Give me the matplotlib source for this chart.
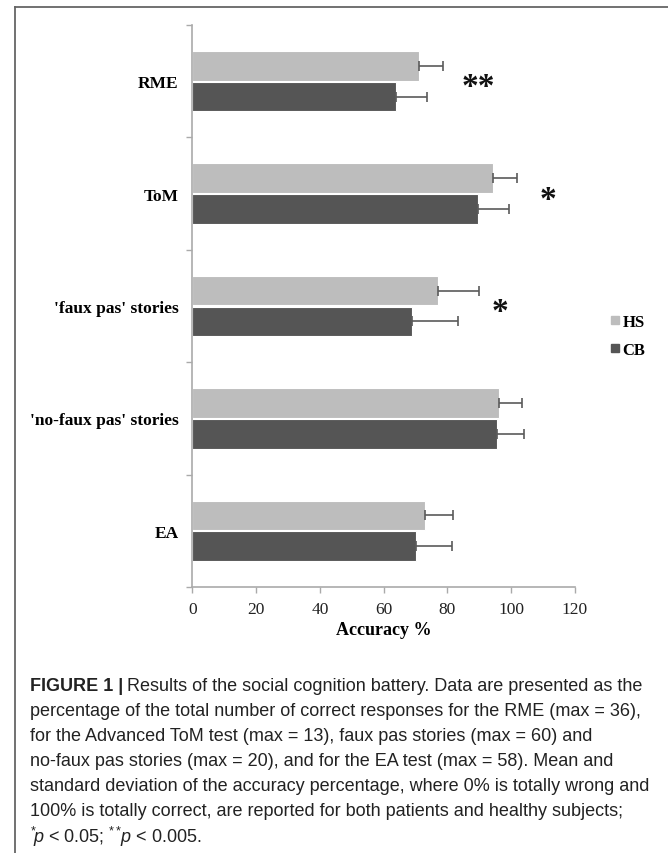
import matplotlib
matplotlib.use("Agg")
import matplotlib.pyplot as plt
from matplotlib.lines import Line2D
import numpy as np

categories = ["RME", "ToM", "'faux pas' stories", "'no-faux pas' stories", "EA"]
hs_mean = [71.1, 94.4, 77.1, 96.2, 72.9]
hs_sd = [7.6, 7.3, 12.8, 7.1, 8.9]
cb_mean = [63.8, 89.7, 68.8, 95.4, 70.3]
cb_sd = [9.7, 9.7, 14.6, 8.7, 11.2]
stars = ["**", "*", "*", "", ""]
star_x = [89.6, 111.5, 96.4, 0, 0]

caption = [
    "percentage of the total number of correct responses for the RME (max = 36),",
    "for the Advanced ToM test (max = 13), faux pas stories (max = 60) and",
    "no-faux pas stories (max = 20), and for the EA test (max = 58). Mean and",
    "standard deviation of the accuracy percentage, where 0% is totally wrong and",
    "100% is totally correct, are reported for both patients and healthy subjects;",
]

serif = "Liberation Serif"
sans = "Liberation Sans"
plt.rcParams["mathtext.fontset"] = "custom"
plt.rcParams["mathtext.it"] = "Liberation Sans:italic"
plt.rcParams["mathtext.rm"] = "Liberation Sans"

W, H = 668, 854
fig = plt.figure(figsize=(W / 100, H / 100), dpi=100)
ax = fig.add_axes([192.3 / W, 1 - 588 / H, (575 - 192.3) / W, (588 - 26) / H])

n = len(categories)
centers = np.arange(n)[::-1] + 0.5
bh = 0.265
err_kw = dict(ecolor="#5a5a5a", elinewidth=1.2, capsize=3.5, capthick=1.2)
ax.barh(centers + 0.137, hs_mean, height=bh, color="#bdbdbd", edgecolor="white",
        linewidth=0.8, xerr=[np.zeros(n), hs_sd], error_kw=err_kw, label="HS", zorder=2)
ax.barh(centers - 0.137, cb_mean, height=bh, color="#555555", edgecolor="white",
        linewidth=0.8, xerr=[np.zeros(n), cb_sd], error_kw=err_kw, label="CB", zorder=2)

for c, s, x in zip(centers, stars, star_x):
    if s:
        ax.text(x, c - 0.05, s, ha="center", va="center", fontsize=24,
                family=serif, fontweight="bold", color="#111111")

ax.set_xlim(0, 120)
ax.set_ylim(0, n)
ax.set_xticks(np.arange(0, 121, 20))
ax.set_yticks(np.arange(0, n + 1))
ax.set_yticklabels([])
ax.set_yticks(centers, minor=True)
ax.set_yticklabels(categories, minor=True, fontsize=12.5, family=serif,
                   fontweight="bold")
ax.tick_params(axis="y", which="minor", length=0, pad=10)
ax.tick_params(axis="y", which="major", length=4, color="#aaaaaa", width=1)
ax.tick_params(axis="x", length=4, color="#aaaaaa", width=1, pad=6,
               labelsize=12.5, labelcolor="#222222")
for lab in ax.get_xticklabels():
    lab.set_family(serif)
for sp in ["top", "right"]:
    ax.spines[sp].set_visible(False)
for sp in ["left", "bottom"]:
    ax.spines[sp].set_color("#aaaaaa")
    ax.spines[sp].set_linewidth(1.2)
ax.set_xlabel("Accuracy %", fontsize=13, family=serif, fontweight="bold",
              labelpad=3)

handles = [Line2D([], [], marker="s", ls="", color="#bdbdbd", markersize=6),
           Line2D([], [], marker="s", ls="", color="#555555", markersize=6)]
fig.legend(handles, ["HS", "CB"], loc="center left",
           bbox_to_anchor=(610 / W, 1 - 337 / H), frameon=False,
           prop=dict(family=serif, weight="bold", size=12),
           handlelength=0.6, handletextpad=0.15, labelspacing=0.75,
           borderpad=0, borderaxespad=0)

# frame lines
fig.add_artist(Line2D([15 / W, 1], [1 - 8 / H, 1 - 8 / H], color="#666666", lw=1.3))
fig.add_artist(Line2D([15 / W, 15 / W], [0, 1 - 8 / H], color="#666666", lw=1.3))

# caption
fs = 13
x0 = 30 / W
y = 687
t1 = fig.text(x0, 1 - y / H, "FIGURE 1 |", family=sans, fontweight="bold",
              fontsize=fs, va="center", color="#222222")
fig.canvas.draw()
bb = t1.get_window_extent()
fig.text(bb.x1 / W + 4 / W, 1 - y / H, "Results of the social cognition battery. Data are presented as the",
         family=sans, fontsize=fs, va="center", color="#222222")
for i, line in enumerate(caption):
    fig.text(x0, 1 - (y + 25 * (i + 1)) / H, line, family=sans, fontsize=fs,
             va="center", color="#222222")
fig.text(x0, 1 - (y + 25 * 6) / H, r"$^{*}\!p$ < 0.05; $^{**}\!p$ < 0.005.",
         family=sans, fontsize=fs, va="center", color="#222222")

fig.savefig("out.png", dpi=100)
